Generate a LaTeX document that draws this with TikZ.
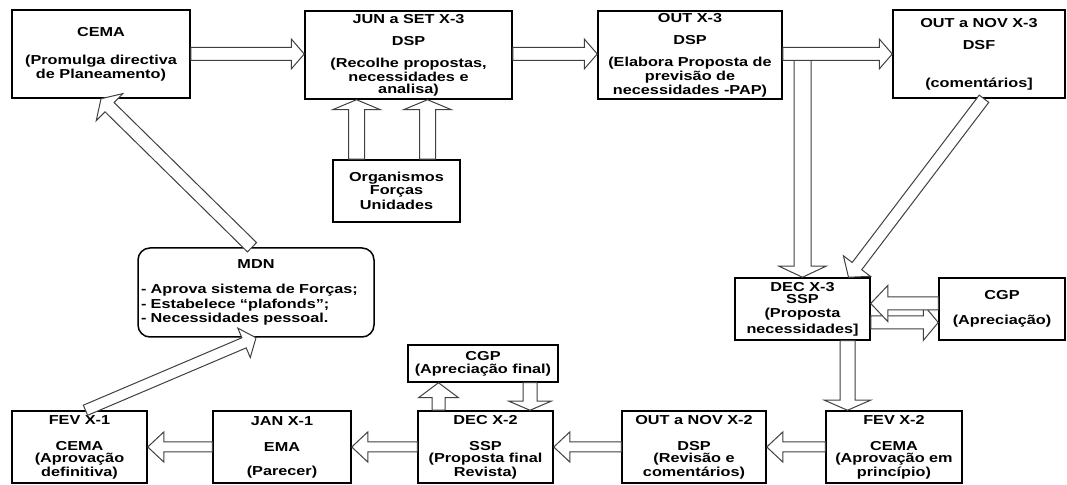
\documentclass[tikz,border=0pt]{standalone}
\usepackage{fontspec}
\setmainfont{Liberation Sans}[FakeStretch=1.25]
\usetikzlibrary{calc, positioning}

% hollow block arrow: [style]{from}{to}{half shaft}{half head}{head length}
\newcommand{\blockarrow}[6][]{%
	\coordinate (ba-c) at ($(#3)!#6!(#2)$);
	\draw[barrow, #1] ($(#2)!#4!90:(#3)$) -- ($(ba-c)!#4!90:(#3)$)
	-- ($(ba-c)!#5!90:(#3)$) -- (#3) -- ($(ba-c)!#5!-90:(#3)$)
	-- ($(ba-c)!#4!-90:(#3)$) -- ($(#2)!#4!-90:(#3)$) -- cycle;
}

\begin{document}
\begin{tikzpicture}[x=0.5pt, y=-0.5pt,
	font=\fontsize{6.5}{6}\selectfont\bfseries,
	box/.style={draw, line width=0.75pt, inner sep=0pt, align=center},
	sz/.style n args={2}{minimum width=#1*0.5pt, minimum height=#2*0.5pt},
	barrow/.style={draw=black!75, line width=0.5pt, fill=white, line join=miter}]
	
	\useasboundingbox (0,0) rectangle (1067,485);
	
	% 1. Top row (year X-3)
	\node[box, sz={178}{88}] (cema) at (101,54)
	{CEMA\\[8pt] (Promulga directiva\\ de Planeamento)};
	\node[box, sz={207}{88}] (jun) at (408.5,55)
	{JUN a SET X-3\\[5pt] DSP\\[5pt] (Recolhe propostas,\\ necessidades e\\ analisa)};
	\node[box, sz={184}{88}] (out3) at (690,55)
	{OUT X-3\\[5pt] DSP\\[5pt] (Elabora Proposta de\\ previsão de\\ necessidades -PAP)};
	\node[box, sz={172}{88}] (dsf) at (979,54)
	{OUT a NOV X-3\\[5pt] DSF\\[13pt] (comentários]};
	
	% 2. Middle boxes
	\node[box, sz={127}{62}] (org) at (396.5,191)
	{Organismos\\[0.5pt] Forças\\[0.5pt] Unidades};
	\node[box, rounded corners=6pt, minimum height=44.5pt, text width=115pt,
	inner xsep=1.5pt, align=left] (mdn) at (256,292.5)
	{\hfill MDN\hfill\null\\[6.5pt]
		- Aprova sistema de Forças;\\
		- Estabelece “plafonds”;\\
		- Necessidades pessoal.};
	\node[box, sz={135}{62}] (dec3) at (802.5,309)
	{DEC X-3\\ SSP\\[1pt] (Proposta\\[1pt] necessidades]};
	\node[box, sz={126}{62}] (cgp1) at (1002,309)
	{CGP\\[6.5pt] (Apreciação)};
	\node[box, sz={150}{37}] (cgp2) at (483,363.5)
	{CGP\\[0.5pt] (Apreciação final)};
	
	% 3. Bottom row (years X-2 and X-1)
	\node[box, sz={135}{72}] (fev1) at (79.5,447)
	{FEV X-1\\[7pt] CEMA\\ (Aprovação\\ definitiva)};
	\node[box, sz={138}{72}] (jan) at (282,447)
	{JAN X-1\\[7pt] EMA\\[6pt] (Parecer)};
	\node[box, sz={135}{72}] (dec2) at (485.5,447)
	{DEC X-2\\[7pt] SSP\\ (Proposta final\\ Revista)};
	\node[box, sz={144}{72}] (out2) at (694,447)
	{OUT a NOV X-2\\[7pt] DSP\\ (Revisão e\\ comentários)};
	\node[box, sz={136}{72}] (fev2) at (894,447)
	{FEV X-2\\[7pt] CEMA\\ (Aprovação em\\ princípio)};
	
	% 4. Free ends of the arrows
	\coordinate (o3v) at (dec3.north |- cema.east);
	\coordinate (dsfd) at ($(dsf.south)+(5,0)$);
	\coordinate (dec3n) at ($(dec3.north)+(46,0)$);
	\coordinate (orga) at ($(org.north)+(-40,0)$);
	\coordinate (orgb) at ($(org.north)+(31,0)$);
	\coordinate (cgpu) at ($(cgp1.west)+(0,-5.5)$);
	\coordinate (cgpd) at ($(dec3.east)+(0,13.5)$);
	\coordinate (dec3s) at ($(dec3.south)+(45,0)$);
	\coordinate (dec2a) at ($(dec2.north)+(-47,0)$);
	\coordinate (cgp2b) at ($(cgp2.south)+(47,0)$);
	\coordinate (fev1n) at ($(fev1.north)+(6,0)$);
	\coordinate (mdnn) at ($(mdn.north)+(-4,0)$);
	
	% 5. Arrows of the top row
	\blockarrow{cema.east}{cema.east -| jun.west}{3.25pt}{7.5pt}{6.5pt}
	\blockarrow{cema.east -| jun.east}{cema.east -| out3.west}{3.25pt}{7.5pt}{6.5pt}
	\blockarrow{o3v}{dec3.north}{4.25pt}{11.75pt}{5.5pt}
	\blockarrow{cema.east -| out3.east}{dsf.west}{3.25pt}{7.5pt}{6.5pt}
	\blockarrow{orga}{orga |- jun.south}{4pt}{12pt}{5pt}
	\blockarrow{orgb}{orgb |- jun.south}{4pt}{12pt}{5pt}
	
	% 6. Around DEC X-3
	\blockarrow{dsfd}{dec3n}{3pt}{8.5pt}{7pt}
	\blockarrow{cgpd}{cgpd -| cgp1.west}{3.25pt}{9pt}{7.5pt}
	\blockarrow{cgpu}{cgpu -| dec3.east}{3.25pt}{9pt}{8.5pt}
	\blockarrow{dec3s}{dec3s |- fev2.north}{3.75pt}{11.5pt}{5pt}
	
	% 7. Bottom row, back to the left
	\blockarrow{fev2.west}{out2.east}{2.5pt}{7.5pt}{8pt}
	\blockarrow{out2.west}{dec2.east}{2.5pt}{7.5pt}{8pt}
	\blockarrow{dec2.west}{jan.east}{2.5pt}{7.5pt}{8pt}
	\blockarrow{jan.west}{fev1.east}{2.5pt}{7.5pt}{8pt}
	\blockarrow{dec2a}{dec2a |- cgp2.south}{3.25pt}{10pt}{7.5pt}
	\blockarrow{cgp2b}{cgp2b |- dec2.north}{3.5pt}{10.5pt}{4.5pt}
	
	% 8. Up through MDN to CEMA
	\blockarrow{fev1n}{mdn.south}{2.75pt}{8pt}{6.5pt}
	\blockarrow{mdnn}{cema.south}{3.25pt}{9.5pt}{6pt}
	
\end{tikzpicture}
\end{document}
